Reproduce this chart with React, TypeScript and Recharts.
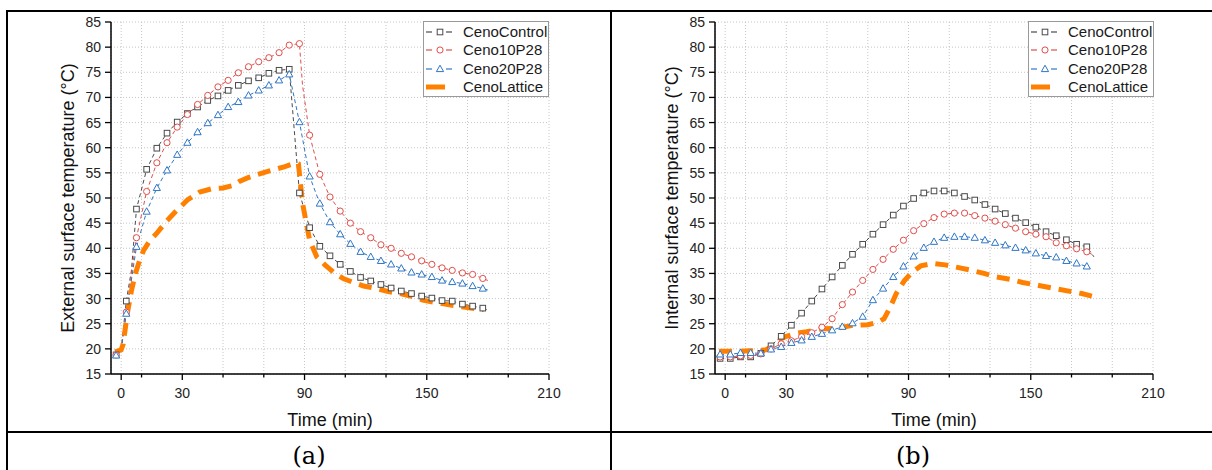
import { LineChart, Line, XAxis, YAxis, CartesianGrid, Legend } from 'recharts'

// (a) external surface
const extControlTime = [-2.5, 0, 2.5, 5, 7.5, 12.5, 17.5, 22.5, 27.5, 32.5, 37.5, 42.5, 47.5, 52.5, 57.5, 62.5, 67.5, 72.5, 77.5, 82.5, 87.5, 92.5, 97.5, 102.5, 107.5, 112.5, 117.5, 122.5, 127.5, 132.5, 137.5, 142.5, 147.5, 152.5, 157.5, 162.5, 167.5, 172.5, 177.5, 179.5]
const extControlTemp = [18.8, 19.8, 29.5, 35.5, 47.8, 55.7, 59.9, 62.9, 65.1, 66.8, 68.1, 69.4, 70.3, 71.4, 72.4, 73.3, 73.9, 74.8, 75.4, 75.6, 51.0, 44.1, 40.4, 38.5, 36.8, 35.4, 34.2, 33.5, 32.8, 32.1, 31.5, 31.0, 30.5, 30.1, 29.6, 29.5, 28.9, 28.5, 28.1, 27.8]

const ext10Time = [-2.5, 0, 2.5, 7.5, 12.5, 17.5, 22.5, 27.5, 32.5, 37.5, 42.5, 47.5, 52.5, 57.5, 62.5, 67.5, 72.5, 77.5, 82.5, 87.5, 89, 92.5, 97.5, 102.5, 107.5, 112.5, 117.5, 122.5, 127.5, 132.5, 137.5, 142.5, 147.5, 152.5, 157.5, 162.5, 167.5, 172.5, 177.5, 180]
const ext10Temp = [18.8, 19.8, 27.3, 42.1, 51.3, 57.0, 61.0, 64.1, 66.6, 68.6, 70.4, 72.1, 73.4, 74.9, 76.1, 77.1, 77.9, 78.9, 80.4, 80.7, 72.5, 62.5, 54.7, 50.2, 47.4, 45.0, 43.3, 42.1, 40.7, 40.0, 39.0, 38.3, 37.5, 36.8, 36.1, 35.6, 35.1, 34.8, 34.0, 33.6]

const ext20Time = [-2.5, 0, 2.5, 7.5, 12.5, 17.5, 22.5, 27.5, 32.5, 37.5, 42.5, 47.5, 52.5, 57.5, 62.5, 67.5, 72.5, 77.5, 82.5, 87.5, 92.5, 97.5, 102.5, 107.5, 112.5, 117.5, 122.5, 127.5, 132.5, 137.5, 142.5, 147.5, 152.5, 157.5, 162.5, 167.5, 172.5, 177.5, 180]
const ext20Temp = [18.7, 19.8, 27.0, 40.3, 47.3, 52.0, 55.5, 58.6, 61.0, 63.1, 64.9, 66.5, 68.1, 69.1, 70.4, 71.4, 72.4, 73.4, 74.6, 65.1, 54.3, 48.9, 45.2, 42.8, 40.9, 39.3, 38.3, 37.5, 36.8, 36.0, 35.2, 34.8, 34.3, 33.6, 33.3, 33.0, 32.5, 32.0, 31.7]

const extLatticeTime = [-3, 0, 1, 3, 5, 7, 9, 11, 14, 17.5, 22, 26.5, 32.5, 38.5, 45, 50, 55, 58, 62, 67, 72, 80, 86, 87, 89, 92.5, 96, 100, 105, 109, 114, 119, 125, 131, 137, 143, 148, 153, 159, 165, 170, 178]
const extLatticeTemp = [19.4, 19.8, 21.0, 27.0, 31.5, 35.0, 37.5, 39.6, 41.5, 43.0, 45.3, 47.2, 49.6, 51.2, 51.9, 52.0, 52.5, 53.3, 54.0, 54.7, 55.3, 56.2, 57.0, 56.8, 49.0, 41.6, 38.3, 36.7, 35.0, 34.0, 33.2, 32.5, 32.0, 31.4, 31.0, 30.4, 29.7, 29.3, 28.9, 28.5, 28.2, 27.8]

// (b) internal surface
const intTime = [-2.5, 2.5, 7.5, 12.5, 17.5, 22.5, 27.5, 32.5, 37.5, 42.5, 47.5, 52.5, 57.5, 62.5, 67.5, 72.5, 77.5, 82.5, 87.5, 92.5, 97.5, 102.5, 107.5, 112.5, 117.5, 122.5, 127.5, 132.5, 137.5, 142.5, 147.5, 152.5, 157.5, 162.5, 167.5, 172.5, 177.5, 181]
const intControlTemp = [18.1, 18.1, 18.4, 18.4, 19.1, 20.6, 22.5, 24.7, 27.1, 29.5, 31.9, 34.3, 36.6, 38.8, 40.8, 42.8, 44.7, 46.6, 48.4, 49.9, 51.0, 51.4, 51.4, 51.0, 50.3, 49.6, 48.7, 47.8, 46.9, 46.0, 45.1, 44.2, 43.3, 42.5, 41.7, 40.8, 40.3, 38.3]
const int10Temp = [18.4, 18.4, 18.6, 18.7, 19.0, 20.0, 21.0, 21.6, 22.4, 23.2, 24.3, 26.0, 28.8, 31.3, 33.6, 35.8, 37.8, 39.8, 41.6, 43.5, 44.9, 46.1, 46.8, 47.0, 47.0, 46.5, 46.0, 45.4, 44.7, 44.0, 43.3, 42.8, 42.3, 41.1, 40.5, 39.9, 39.3, 38.6]
const int20Temp = [18.9, 18.9, 19.2, 19.2, 19.1, 19.9, 20.4, 21.2, 21.7, 22.4, 23.0, 23.7, 24.4, 25.1, 26.4, 29.7, 32.0, 34.3, 36.4, 38.4, 40.1, 41.3, 42.1, 42.3, 42.3, 42.1, 41.6, 41.1, 40.6, 40.1, 39.6, 39.0, 38.5, 38.2, 37.5, 37.0, 36.4]

const intLatticeTime = [-3, 7, 12, 20, 22, 25, 30, 35, 40, 47.5, 55, 63, 70, 75, 78, 81, 84, 88, 92, 96, 102, 108, 114, 120, 127, 133, 140, 146, 154, 163, 171, 175, 180]
const intLatticeTemp = [19.5, 19.5, 19.6, 19.8, 20.3, 21.5, 22.5, 23.1, 23.4, 24.0, 24.1, 24.7, 24.8, 25.3, 26.0, 28.3, 31.0, 33.6, 35.3, 36.5, 37.0, 36.7, 36.2, 35.7, 35.0, 34.3, 33.8, 33.2, 32.6, 31.9, 31.3, 31.0, 30.5]

const SERIES_NAMES = ['CenoControl', 'Ceno10P28', 'Ceno20P28', 'CenoLattice']
const X_TICKS = [0, 10, 20, 30, 40, 50, 60, 70, 80, 90, 100, 110, 120, 130, 140, 150, 160, 170, 180, 190, 200, 210]
const Y_TICKS = [15, 17.5, 20, 22.5, 25, 27.5, 30, 32.5, 35, 37.5, 40, 42.5, 45, 47.5, 50, 52.5, 55, 57.5, 60, 62.5, 65, 67.5, 70, 72.5, 75, 77.5, 80, 82.5, 85]

const COLOR = {
  control: '#4a4a4a',
  p10: '#df4f4b',
  p20: '#2f76c6',
  lattice: '#ff8000',
}

const FONT = "'Liberation Sans', Arial, sans-serif"

const toPts = (ts: number[], vs: number[]) => vs.map((v, i) => ({ t: ts[i], v }))

function Marker({ kind, cx, cy, color }: { kind: string; cx: number; cy: number; color: string }) {
  if (kind === 'square') {
    return <rect x={cx - 2.8} y={cy - 2.8} width={5.6} height={5.6} fill="#fff" stroke={color} strokeWidth={1} />
  }
  if (kind === 'circle') {
    return <circle cx={cx} cy={cy} r={3.1} fill="#fff" stroke={color} strokeWidth={1} />
  }
  return (
    <polygon
      points={`${cx},${cy - 3.8} ${cx - 3.6},${cy + 2.6} ${cx + 3.6},${cy + 2.6}`}
      fill="#fff"
      stroke={color}
      strokeWidth={1}
    />
  )
}

// markers only on the 5‑min readings (…, 2.5, 7.5, 12.5 …)
const makeDot = (kind: string, color: string) => (props: any) => {
  const { cx, cy, payload, index } = props
  const r = ((payload.t % 5) + 5) % 5
  if (Math.abs(r - 2.5) > 0.01 || cx == null) return <g key={`d${index}`} />
  return (
    <g key={`d${index}`}>
      <Marker kind={kind} cx={cx} cy={cy} color={color} />
    </g>
  )
}

function XTick(props: any) {
  const { x, y, payload } = props
  const major = payload.value % 30 === 0
  return (
    <g>
      <line x1={x} x2={x} y1={y} y2={y + (major ? 6 : 3.5)} stroke="#000" strokeWidth={1.3} />
      {major && (
        <text x={x} y={y + 23.5} textAnchor="middle" fontSize={14} fill="#222">
          {payload.value}
        </text>
      )}
    </g>
  )
}

function YTick(props: any) {
  const { x, y, payload } = props
  const major = payload.value % 5 === 0
  return (
    <g>
      <line x1={x - (major ? 6 : 3.5)} x2={x} y1={y} y2={y} stroke="#000" strokeWidth={1.3} />
      {major && (
        <text x={x - 10} y={y + 5} textAnchor="end" fontSize={14} fill="#222">
          {payload.value}
        </text>
      )}
    </g>
  )
}

function LegendBox() {
  const kinds = ['square', 'circle', 'triangle', 'lattice']
  const colors = [COLOR.control, COLOR.p10, COLOR.p20, COLOR.lattice]
  return (
    <div
      style={{
        position: 'relative',
        width: 126,
        height: 76,
        boxSizing: 'border-box',
        border: '1px solid #9a9a9a',
        background: '#fff',
        fontFamily: FONT,
      }}
    >
      {SERIES_NAMES.map((name, i) => (
        <div key={name} style={{ position: 'absolute', left: 0, top: 1 + i * 18.4, height: 18, width: 124 }}>
          <svg width={38} height={18} style={{ position: 'absolute', left: 0, top: 0 }}>
            {kinds[i] === 'lattice' ? (
              <line x1={2} x2={21} y1={9} y2={9} stroke={colors[i]} strokeWidth={5} />
            ) : (
              <>
                <line x1={2} x2={8} y1={9} y2={9} stroke={colors[i]} strokeWidth={1.2} />
                <line x1={22} x2={28} y1={9} y2={9} stroke={colors[i]} strokeWidth={1.2} />
                <Marker kind={kinds[i]} cx={16} cy={9} color={colors[i]} />
              </>
            )}
          </svg>
          <span
            style={{
              position: 'absolute',
              left: 39,
              top: 0,
              lineHeight: '18px',
              fontSize: 15,
              color: '#1a1a1a',
              whiteSpace: 'nowrap',
            }}
          >
            {name}
          </span>
        </div>
      ))}
    </div>
  )
}

interface PanelProps {
  left: number
  yTitle: string
  legendLeft: number
  control: { t: number; v: number }[]
  p10: { t: number; v: number }[]
  p20: { t: number; v: number }[]
  lattice: { t: number; v: number }[]
}

function Panel({ left, yTitle, legendLeft, control, p10, p20, lattice }: PanelProps) {
  return (
    <div style={{ position: 'absolute', left, top: 0, fontFamily: FONT }}>
      <LineChart width={604} height={430} margin={{ top: 22, right: 55, left: 40, bottom: 0 }}>
        <CartesianGrid stroke="#bfbfbf" strokeDasharray="1 2" strokeWidth={0.9} />
        <XAxis
          dataKey="t"
          type="number"
          domain={[-5, 210]}
          ticks={X_TICKS}
          allowDataOverflow
          height={56}
          tickLine={false}
          tickSize={0}
          tickMargin={0}
          tick={<XTick />}
          axisLine={{ stroke: '#000', strokeWidth: 1.5 }}
          label={{ value: 'Time (min)', position: 'insideBottom', offset: 4, fontSize: 18, fill: '#111' }}
        />
        <YAxis
          type="number"
          domain={[15, 85]}
          ticks={Y_TICKS}
          allowDataOverflow
          width={71}
          tickLine={false}
          tickSize={0}
          tickMargin={0}
          tick={<YTick />}
          axisLine={{ stroke: '#000', strokeWidth: 1.5 }}
          label={{
            value: yTitle,
            angle: -90,
            position: 'insideLeft',
            offset: 28,
            fontSize: 18,
            fill: '#111',
            style: { textAnchor: 'middle' },
          }}
        />
        <Legend
          layout="vertical"
          align="center"
          verticalAlign="middle"
          wrapperStyle={{ left: legendLeft, top: 21, width: 126, height: 76 }}
          content={() => <LegendBox />}
        />
        <Line
          data={control}
          dataKey="v"
          name={SERIES_NAMES[0]}
          stroke={COLOR.control}
          strokeWidth={1}
          strokeDasharray="4 3"
          dot={makeDot('square', COLOR.control)}
          activeDot={false}
          isAnimationActive={false}
        />
        <Line
          data={p10}
          dataKey="v"
          name={SERIES_NAMES[1]}
          stroke={COLOR.p10}
          strokeWidth={1}
          strokeDasharray="4 3"
          dot={makeDot('circle', COLOR.p10)}
          activeDot={false}
          isAnimationActive={false}
        />
        <Line
          data={p20}
          dataKey="v"
          name={SERIES_NAMES[2]}
          stroke={COLOR.p20}
          strokeWidth={1}
          strokeDasharray="4 3"
          dot={makeDot('triangle', COLOR.p20)}
          activeDot={false}
          isAnimationActive={false}
        />
        <Line
          data={lattice}
          dataKey="v"
          name={SERIES_NAMES[3]}
          stroke={COLOR.lattice}
          strokeWidth={5}
          strokeDasharray="13 8"
          dot={false}
          activeDot={false}
          isAnimationActive={false}
        />
      </LineChart>
    </div>
  )
}

const rule = (style: React.CSSProperties) => (
  <div style={{ position: 'absolute', background: '#000', ...style }} />
)

export default function App() {
  return (
    <div style={{ position: 'absolute', left: 0, top: 0, width: 1212, height: 470, background: '#fff', overflow: 'hidden' }}>
      <Panel
        left={0}
        legendLeft={423}
        yTitle="External surface temperature (°C)"
        control={toPts(extControlTime, extControlTemp)}
        p10={toPts(ext10Time, ext10Temp)}
        p20={toPts(ext20Time, ext20Temp)}
        lattice={toPts(extLatticeTime, extLatticeTemp)}
      />
      <Panel
        left={604}
        legendLeft={424}
        yTitle="Internal surface temperature (°C)"
        control={toPts(intTime, intControlTemp)}
        p10={toPts(intTime, int10Temp)}
        p20={toPts(intTime, int20Temp)}
        lattice={toPts(intLatticeTime, intLatticeTemp)}
      />
      {rule({ left: 6, top: 9.5, width: 1220, height: 2 })}
      {rule({ left: 6, top: 9.5, width: 2, height: 470 })}
      {rule({ left: 610, top: 9.5, width: 2, height: 470 })}
      {rule({ left: 6, top: 430.5, width: 1220, height: 2 })}
      <div style={{ position: 'absolute', left: 8, top: 443, width: 602, textAlign: 'center', fontFamily: "'DejaVu Serif', serif", fontSize: 24, lineHeight: '26px' }}>
        (a)
      </div>
      <div style={{ position: 'absolute', left: 612, top: 443, width: 602, textAlign: 'center', fontFamily: "'DejaVu Serif', serif", fontSize: 24, lineHeight: '26px' }}>
        (b)
      </div>
    </div>
  )
}
